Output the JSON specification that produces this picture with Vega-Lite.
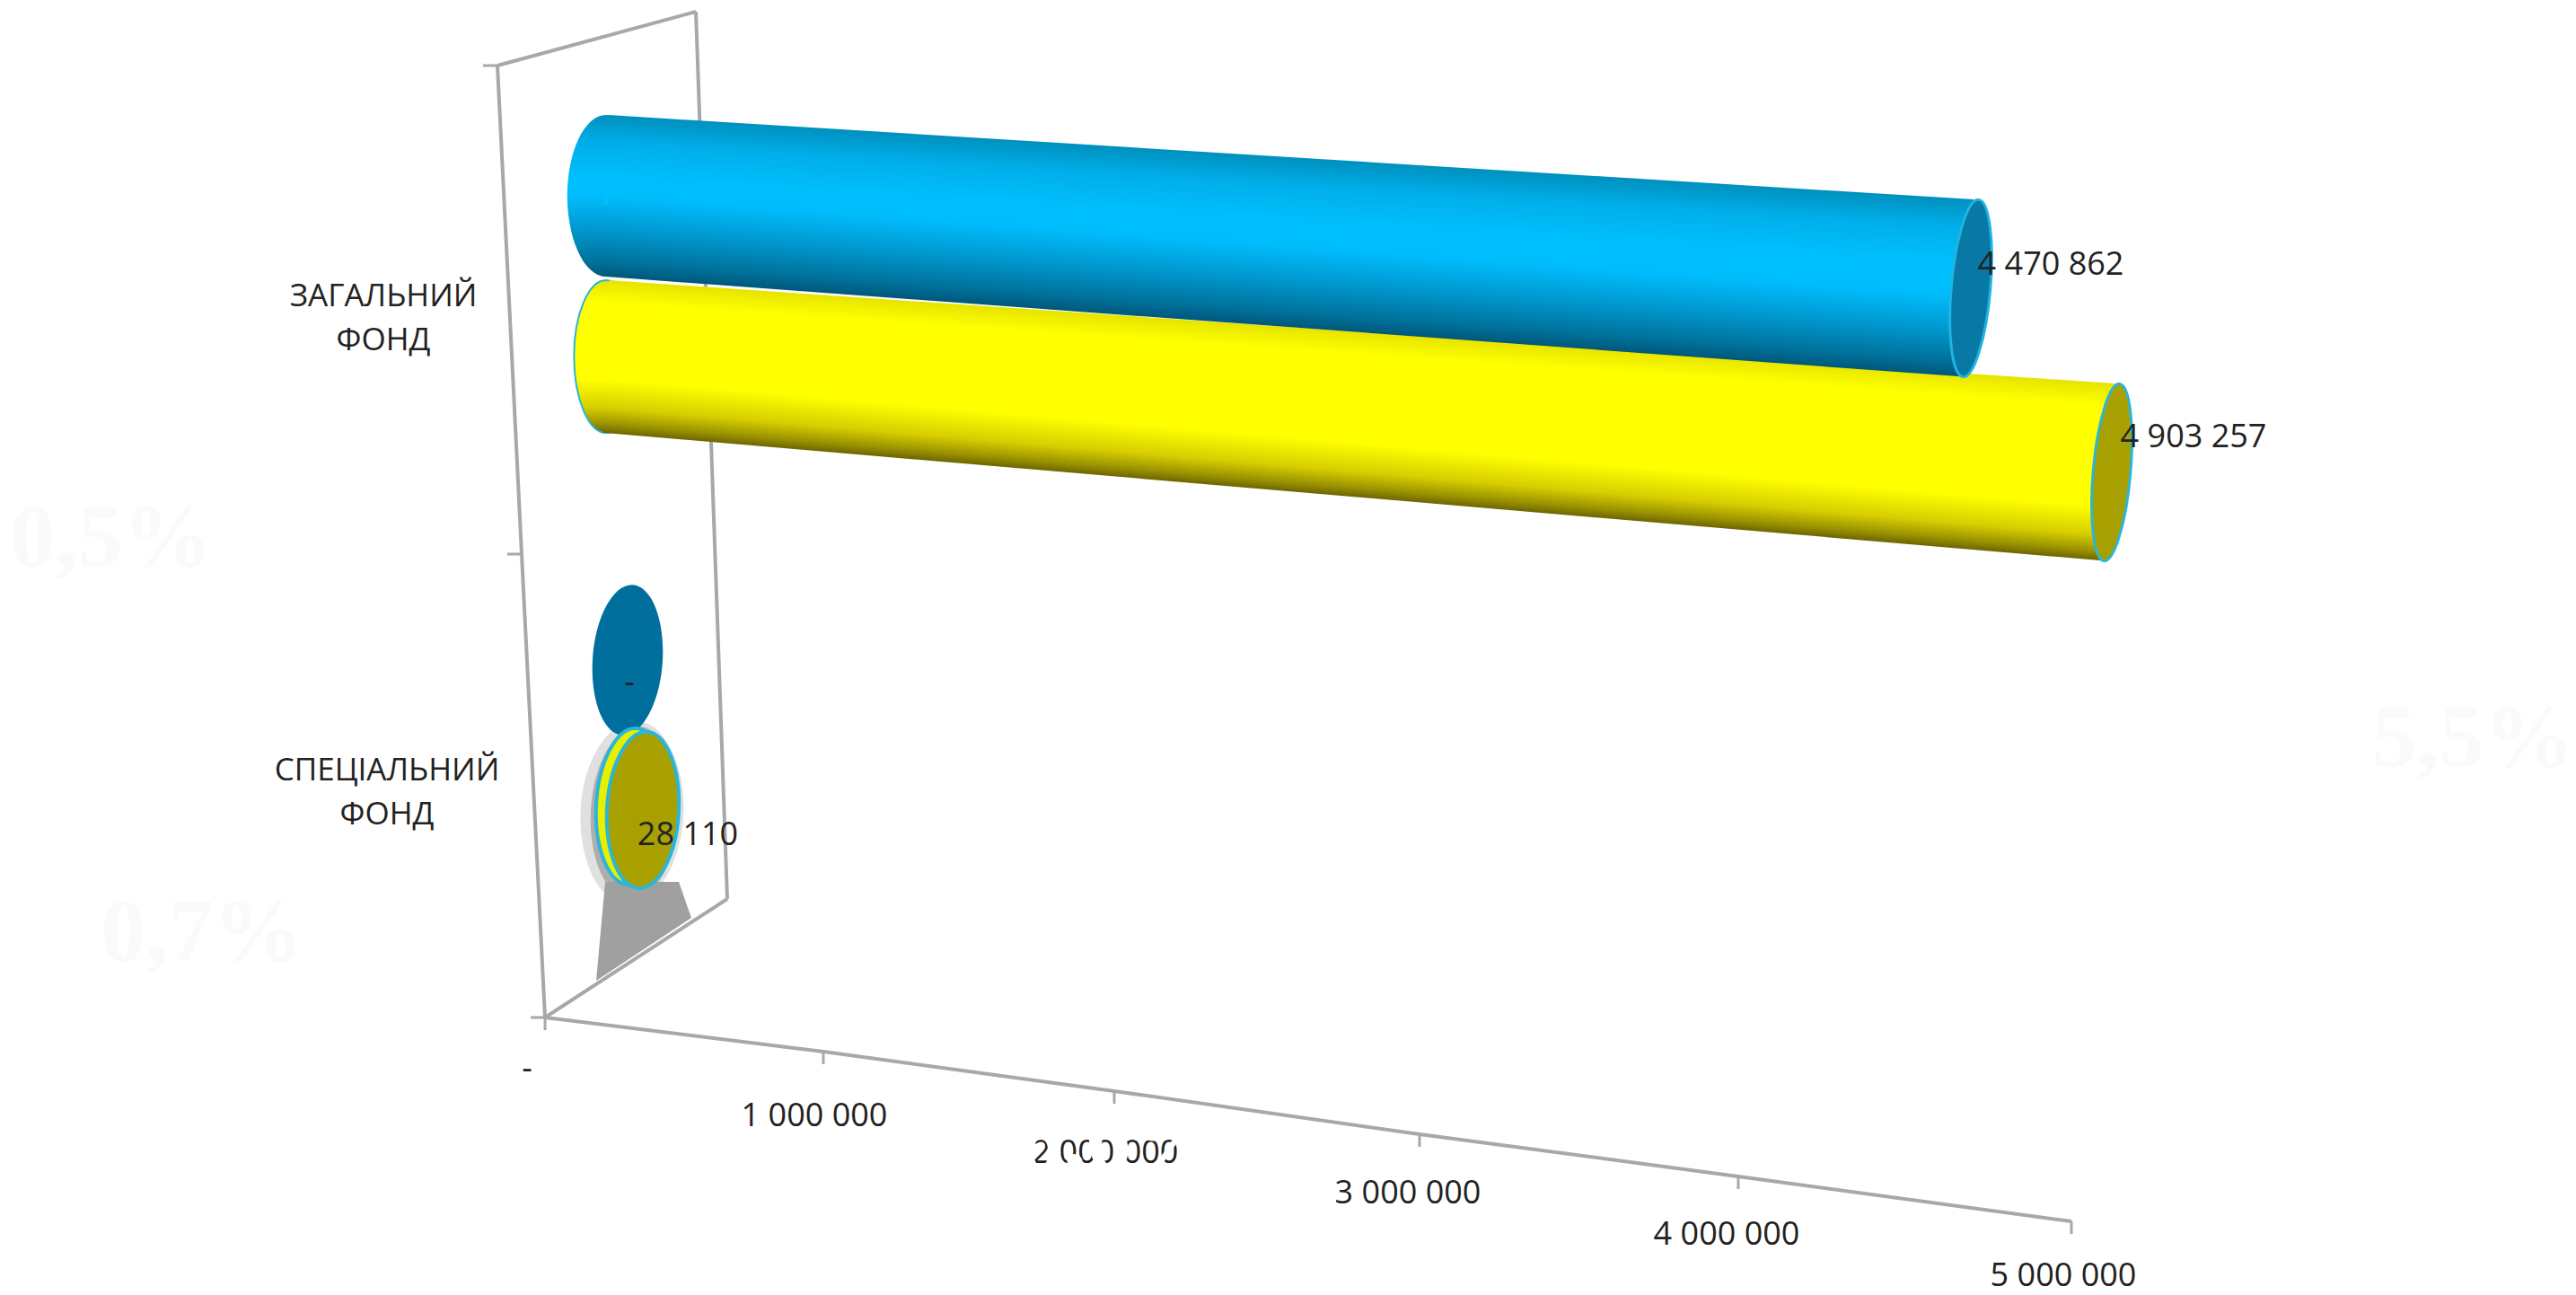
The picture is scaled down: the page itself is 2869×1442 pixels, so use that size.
{
"$schema":"https://vega.github.io/schema/vega-lite/v6.json",
"width":2869,"height":1442,"padding":0,
"autosize":{"type":"fit","contains":"padding"},
"background":"white",
"config":{"view":{"stroke":null}},
"datasets":{
"bars":[
{"fund":"ЗАГАЛЬНИЙ ФОНД","series":"A","base":0,"value":4470862,"label":"4 470 862"},
{"fund":"ЗАГАЛЬНИЙ ФОНД","series":"B","base":0,"value":4903257,"label":"4 903 257"},
{"fund":"СПЕЦІАЛЬНИЙ ФОНД","series":"A","base":0,"value":0,"label":"-"},
{"fund":"СПЕЦІАЛЬНИЙ ФОНД","series":"B","base":0,"value":28110,"label":"28 110"}
],
"ticks":[
{"value":0,"label":"-"},{"value":1000000,"label":"1 000 000"},{"value":2000000,"label":"2 000 000"},
{"value":3000000,"label":"3 000 000"},{"value":4000000,"label":"4 000 000"},{"value":5000000,"label":"5 000 000"}
],
"funds":[{"fund":"ЗАГАЛЬНИЙ ФОНД"},{"fund":"СПЕЦІАЛЬНИЙ ФОНД"}],
"edges":[{"edge":0},{"edge":1},{"edge":2}],
"depth":[{"d":0},{"d":1}],
"ghosts":[{"value":0,"label":"0,5%"},{"value":5000000,"label":"5,5%"},{"value":0,"label":"0,7%"},{"value":2000000,"label":"8,6%"}]
},
"layer":[
{"data":{"name":"ghosts"},"transform":[{"filter":"datum.label=='0,5%'"}],
 "mark":{"type":"text","font":"Liberation Serif","fontWeight":"bold","fontSize":100,"color":"#FAFAFA","dx":-483,"dy":-533},
 "encoding":{"text":{"field":"label","type":"nominal"},
 "x":{"field":"value","type":"quantitative","axis":null,"scale":{"domain":[0,1000000,2000000,3000000,4000000,5000000],"range":[607,917,1241,1581,1936,2307]}},
 "y":{"field":"value","type":"quantitative","axis":null,"scale":{"domain":[0,1000000,2000000,3000000,4000000,5000000],"range":[1133,1171,1215,1263,1310,1360]}}}},
{"data":{"name":"ghosts"},"transform":[{"filter":"datum.label=='5,5%'"}],
 "mark":{"type":"text","font":"Liberation Serif","fontWeight":"bold","fontSize":100,"color":"#FAFAFA","dx":447,"dy":-537},
 "encoding":{"text":{"field":"label","type":"nominal"},
 "x":{"field":"value","type":"quantitative","axis":null,"scale":{"domain":[0,1000000,2000000,3000000,4000000,5000000],"range":[607,917,1241,1581,1936,2307]}},
 "y":{"field":"value","type":"quantitative","axis":null,"scale":{"domain":[0,1000000,2000000,3000000,4000000,5000000],"range":[1133,1171,1215,1263,1310,1360]}}}},
{"data":{"name":"ghosts"},"transform":[{"filter":"datum.label=='0,7%'"}],
 "mark":{"type":"text","font":"Liberation Serif","fontWeight":"bold","fontSize":100,"color":"#FAFAFA","dx":-382,"dy":-94},
 "encoding":{"text":{"field":"label","type":"nominal"},
 "x":{"field":"value","type":"quantitative","axis":null,"scale":{"domain":[0,1000000,2000000,3000000,4000000,5000000],"range":[607,917,1241,1581,1936,2307]}},
 "y":{"field":"value","type":"quantitative","axis":null,"scale":{"domain":[0,1000000,2000000,3000000,4000000,5000000],"range":[1133,1171,1215,1263,1310,1360]}}}},

{"data":{"name":"edges"},"mark":{"type":"line","stroke":"#A8A8A8","strokeWidth":4},
 "encoding":{"x":{"field":"edge","type":"quantitative","axis":null,"scale":{"domain":[0,1,2],"range":[554,581,607]}},
 "y":{"field":"edge","type":"quantitative","axis":null,"scale":{"domain":[0,1,2],"range":[73,617,1133]}}}},
{"data":{"name":"edges"},"mark":{"type":"rule","stroke":"#A8A8A8","strokeWidth":3,"xOffset":-16},
 "encoding":{"x":{"field":"edge","type":"quantitative","axis":null,"scale":{"domain":[0,1,2],"range":[554,581,607]}},
 "x2":{"field":"edge"},
 "y":{"field":"edge","type":"quantitative","axis":null,"scale":{"domain":[0,1,2],"range":[73,617,1133]}}}},
{"data":{"name":"edges"},"mark":{"type":"line","stroke":"#A8A8A8","strokeWidth":4},
 "encoding":{"x":{"field":"edge","type":"quantitative","axis":null,"scale":{"domain":[0,2],"range":[775,810]}},
 "y":{"field":"edge","type":"quantitative","axis":null,"scale":{"domain":[0,2],"range":[13,1001]}}}},
{"data":{"name":"depth"},"mark":{"type":"line","stroke":"#A8A8A8","strokeWidth":4},
 "encoding":{"x":{"field":"d","type":"quantitative","axis":null,"scale":{"domain":[0,1],"range":[554,775]}},
 "y":{"field":"d","type":"quantitative","axis":null,"scale":{"domain":[0,1],"range":[73,13]}}}},

{"data":{"name":"bars"},"transform":[{"filter":"datum.fund=='СПЕЦІАЛЬНИЙ ФОНД' && datum.series=='B'"}],
 "encoding":{
 "x":{"field":"value","type":"quantitative","axis":null,"scale":{"domain":[0,28110],"range":[706,716]}},
 "y":{"field":"value","type":"quantitative","axis":null,"scale":{"domain":[0,28110],"range":[897,902]}}},
 "layer":[
 {"mark":{"type":"point","filled":true,"fill":"#999999","opacity":0.3,"size":42000,"angle":3,"xOffset":-12,"yOffset":3,"shape":"M0,-1C.3,-1 .56,-.55 .56,0C.56,.55 .3,1 0,1C-.3,1 -.56,.55 -.56,0C-.56,-.55 -.3,-1 0,-1Z"}},
 {"mark":{"type":"point","filled":true,"fill":"#8C8C8C","opacity":0.6,"size":37000,"angle":3,"xOffset":-9,"yOffset":3,"shape":"M0,-1C.28,-1 .51,-.55 .51,0C.51,.55 .28,1 0,1C-.28,1 -.51,.55 -.51,0C-.51,-.55 -.28,-1 0,-1Z"}},
 {"mark":{"type":"point","filled":true,"fill":"#A0A0A0","opacity":1,"size":40000,"shape":"M-.42,.8L.4,.8L.54,1.2L-.52,1.9Z"}}
 ]},

{"data":{"name":"depth"},"mark":{"type":"line","stroke":"#A8A8A8","strokeWidth":4},
 "encoding":{"x":{"field":"d","type":"quantitative","axis":null,"scale":{"domain":[0,1],"range":[607,810]}},
 "y":{"field":"d","type":"quantitative","axis":null,"scale":{"domain":[0,1],"range":[1133,1001]}}}},

{"data":{"name":"ticks"},
 "encoding":{
 "x":{"field":"value","type":"quantitative","axis":null,"scale":{"domain":[0,1000000,2000000,3000000,4000000,5000000],"range":[607,917,1241,1581,1936,2307]}},
 "y":{"field":"value","type":"quantitative","axis":null,"scale":{"domain":[0,1000000,2000000,3000000,4000000,5000000],"range":[1133,1171,1215,1263,1310,1360]}}},
 "layer":[
 {"mark":{"type":"line","stroke":"#A8A8A8","strokeWidth":4}},
 {"mark":{"type":"rule","stroke":"#A8A8A8","strokeWidth":3,"y2Offset":14},"encoding":{"y2":{"field":"value"}}}
 ]},

{"data":{"name":"ticks"},
 "mark":{"type":"text","font":"Open Sans","fontSize":36,"color":"#222222"},
 "encoding":{"text":{"field":"label","type":"nominal"},
 "x":{"field":"value","type":"quantitative","axis":null,"scale":{"domain":[0,1000000,2000000,3000000,4000000,5000000],"range":[587,907,1231,1568,1923,2298]}},
 "y":{"field":"value","type":"quantitative","axis":null,"scale":{"domain":[0,1000000,2000000,3000000,4000000,5000000],"range":[1191,1243,1284,1329,1375,1421]}}}},

{"data":{"name":"ghosts"},"transform":[{"filter":"datum.label=='8,6%'"}],
 "mark":{"type":"text","font":"Liberation Serif","fontWeight":"bold","fontSize":100,"color":"#FFFFFF","dx":6,"dy":55},
 "encoding":{"text":{"field":"label","type":"nominal"},
 "x":{"field":"value","type":"quantitative","axis":null,"scale":{"domain":[0,1000000,2000000,3000000,4000000,5000000],"range":[607,917,1241,1581,1936,2307]}},
 "y":{"field":"value","type":"quantitative","axis":null,"scale":{"domain":[0,1000000,2000000,3000000,4000000,5000000],"range":[1133,1171,1215,1263,1310,1360]}}}},

{"data":{"name":"funds"},"mark":{"type":"text","font":"Open Sans","fontSize":35,"color":"#222222","lineBreak":" ","lineHeight":49,"align":"center","baseline":"middle"},
 "encoding":{"text":{"field":"fund","type":"nominal"},
 "x":{"field":"fund","type":"nominal","axis":null,"scale":{"type":"point","domain":["ЗАГАЛЬНИЙ ФОНД","СПЕЦІАЛЬНИЙ ФОНД"],"range":[427,431],"padding":0}},
 "y":{"field":"fund","type":"nominal","axis":null,"scale":{"type":"point","domain":["ЗАГАЛЬНИЙ ФОНД","СПЕЦІАЛЬНИЙ ФОНД"],"range":[330,858],"padding":0}}}},

{"data":{"name":"bars"},"transform":[{"filter":"datum.fund=='ЗАГАЛЬНИЙ ФОНД' && datum.series=='B'"}],
 "layer":[
 {"mark":{"type":"point","filled":true,"size":28900,"stroke":"#29B6D8","strokeWidth":2,"opacity":1,"shape":"M0,-1C.23,-1 .42,-.55 .42,0C.42,.55 .23,1 0,1C-.23,1 -.42,.55 -.42,0C-.42,-.55 -.23,-1 0,-1Z",
  "fill":{"gradient":"linear","x1":0,"y1":0,"x2":0,"y2":1,"stops":[{"offset":0,"color":"#E6E400"},{"offset":0.147,"color":"#FFFF00"},{"offset":0.65,"color":"#FFFF00"},{"offset":0.835,"color":"#D6CE00"},{"offset":0.94,"color":"#9A9200"},{"offset":1,"color":"#6E6600"}]}},
  "encoding":{"x":{"field":"base","type":"quantitative","axis":null,"scale":{"domain":[0,4903257],"range":[675,2352]}},"y":{"field":"base","type":"quantitative","axis":null,"scale":{"domain":[0,4903257],"range":[397,526]}}}},
 {"mark":{"type":"rule","strokeWidth":100,"yOffset":-35,"y2Offset":-49,
  "stroke":{"gradient":"linear","x1":0.7175,"y1":0.2825,"x2":0.2825,"y2":0.7175,"stops":[{"offset":0,"color":"#E6E400"},{"offset":0.25,"color":"#FFFF00"},{"offset":1,"color":"#FFFF00"}]}},
  "encoding":{"x":{"field":"base","type":"quantitative","axis":null,"scale":{"domain":[0,4903257],"range":[675,2352]}},"x2":{"field":"value"},"y":{"field":"base","type":"quantitative","axis":null,"scale":{"domain":[0,4903257],"range":[397,526]}},"y2":{"field":"value"}}},
 {"mark":{"type":"rule","strokeWidth":100,"yOffset":35,"y2Offset":49,
  "stroke":{"gradient":"linear","x1":0.675,"y1":0.325,"x2":0.325,"y2":0.675,"stops":[{"offset":0,"color":"#FFFF00"},{"offset":0.4,"color":"#FFFF00"},{"offset":0.72,"color":"#D6CE00"},{"offset":0.9,"color":"#9A9200"},{"offset":1,"color":"#6E6600"}]}},
  "encoding":{"x":{"field":"base","type":"quantitative","axis":null,"scale":{"domain":[0,4903257],"range":[675,2352]}},"x2":{"field":"value"},"y":{"field":"base","type":"quantitative","axis":null,"scale":{"domain":[0,4903257],"range":[397,526]}},"y2":{"field":"value"}}},
 {"mark":{"type":"point","filled":true,"size":39204,"angle":5,"fill":"#A8A000","stroke":"#29B6D8","strokeWidth":3,"opacity":1,"shape":"M0,-1C.115,-1 .21,-.55 .21,0C.21,.55 .115,1 0,1C-.115,1 -.21,.55 -.21,0C-.21,-.55 -.115,-1 0,-1Z"},
  "encoding":{"x":{"field":"value","type":"quantitative","axis":null,"scale":{"domain":[0,4903257],"range":[675,2352]}},"y":{"field":"value","type":"quantitative","axis":null,"scale":{"domain":[0,4903257],"range":[397,526]}}}},
 {"mark":{"type":"text","font":"Open Sans","fontSize":36,"color":"#222222","dx":91,"dy":-39},
  "encoding":{"text":{"field":"label","type":"nominal"},"x":{"field":"value","type":"quantitative","axis":null,"scale":{"domain":[0,4903257],"range":[675,2352]}},"y":{"field":"value","type":"quantitative","axis":null,"scale":{"domain":[0,4903257],"range":[397,526]}}}}
 ]},

{"data":{"name":"bars"},"transform":[{"filter":"datum.fund=='ЗАГАЛЬНИЙ ФОНД' && datum.series=='A'"}],
 "layer":[
 {"mark":{"type":"point","filled":true,"size":32400,"opacity":1,"shape":"M0,-1C.265,-1 .48,-.55 .48,0C.48,.55 .265,1 0,1C-.265,1 -.48,.55 -.48,0C-.48,-.55 -.265,-1 0,-1Z",
  "fill":{"gradient":"linear","x1":0,"y1":0,"x2":0,"y2":1,"stops":[{"offset":0,"color":"#0090BE"},{"offset":0.167,"color":"#00AEE8"},{"offset":0.4,"color":"#00BFFF"},{"offset":0.444,"color":"#00BFFF"},{"offset":0.51,"color":"#00BBFA"},{"offset":0.72,"color":"#0096CC"},{"offset":0.917,"color":"#006F98"},{"offset":1,"color":"#00587A"}]}},
  "encoding":{"x":{"field":"base","type":"quantitative","axis":null,"scale":{"domain":[0,4470862],"range":[675,2195]}},"y":{"field":"base","type":"quantitative","axis":null,"scale":{"domain":[0,4470862],"range":[218,321]}}}},
 {"mark":{"type":"rule","strokeWidth":100,"yOffset":-40,"y2Offset":-49,
  "stroke":{"gradient":"linear","x1":0.766,"y1":0.234,"x2":0.234,"y2":0.766,"stops":[{"offset":0,"color":"#0090BE"},{"offset":0.3,"color":"#00AEE8"},{"offset":0.72,"color":"#00BFFF"},{"offset":1,"color":"#00BFFF"}]}},
  "encoding":{"x":{"field":"base","type":"quantitative","axis":null,"scale":{"domain":[0,4470862],"range":[675,2195]}},"x2":{"field":"value"},"y":{"field":"base","type":"quantitative","axis":null,"scale":{"domain":[0,4470862],"range":[218,321]}},"y2":{"field":"value"}}},
 {"mark":{"type":"rule","strokeWidth":100,"yOffset":40,"y2Offset":49,
  "stroke":{"gradient":"linear","x1":0.723,"y1":0.277,"x2":0.277,"y2":0.723,"stops":[{"offset":0,"color":"#00BFFF"},{"offset":0.12,"color":"#00BBFA"},{"offset":0.5,"color":"#0096CC"},{"offset":0.85,"color":"#006F98"},{"offset":1,"color":"#00587A"}]}},
  "encoding":{"x":{"field":"base","type":"quantitative","axis":null,"scale":{"domain":[0,4470862],"range":[675,2195]}},"x2":{"field":"value"},"y":{"field":"base","type":"quantitative","axis":null,"scale":{"domain":[0,4470862],"range":[218,321]}},"y2":{"field":"value"}}},
 {"mark":{"type":"point","filled":true,"size":39204,"angle":5,"fill":"#0878A4","stroke":"#1FB4E4","strokeWidth":3,"opacity":1,"shape":"M0,-1C.12,-1 .22,-.55 .22,0C.22,.55 .12,1 0,1C-.12,1 -.22,.55 -.22,0C-.22,-.55 -.12,-1 0,-1Z"},
  "encoding":{"x":{"field":"value","type":"quantitative","axis":null,"scale":{"domain":[0,4470862],"range":[675,2195]}},"y":{"field":"value","type":"quantitative","axis":null,"scale":{"domain":[0,4470862],"range":[218,321]}}}},
 {"mark":{"type":"text","font":"Open Sans","fontSize":36,"color":"#222222","dx":89,"dy":-26},
  "encoding":{"text":{"field":"label","type":"nominal"},"x":{"field":"value","type":"quantitative","axis":null,"scale":{"domain":[0,4470862],"range":[675,2195]}},"y":{"field":"value","type":"quantitative","axis":null,"scale":{"domain":[0,4470862],"range":[218,321]}}}}
 ]},

{"data":{"name":"bars"},"transform":[{"filter":"datum.fund=='СПЕЦІАЛЬНИЙ ФОНД' && datum.series=='A'"}],
 "encoding":{
 "x":{"field":"value","type":"quantitative","axis":null,"scale":{"domain":[0,1],"range":[699,700]}},
 "y":{"field":"value","type":"quantitative","axis":null,"scale":{"domain":[0,1],"range":[735,736]}}},
 "layer":[
 {"mark":{"type":"point","filled":true,"size":28224,"angle":4,"fill":"#006F9E","opacity":1,"shape":"M0,-1C.255,-1 .464,-.55 .464,0C.464,.55 .255,1 0,1C-.255,1 -.464,.55 -.464,0C-.464,-.55 -.255,-1 0,-1Z"}},
 {"mark":{"type":"text","font":"Open Sans","fontSize":36,"color":"#222222","dx":2,"dy":26},"encoding":{"text":{"field":"label","type":"nominal"}}}
 ]},

{"data":{"name":"bars"},"transform":[{"filter":"datum.fund=='СПЕЦІАЛЬНИЙ ФОНД' && datum.series=='B'"}],
 "layer":[
 {"mark":{"type":"point","filled":true,"size":30276,"angle":3,"fill":"#E8F000","stroke":"#29B6D8","strokeWidth":4,"opacity":1,"shape":"M0,-1C.25,-1 .46,-.55 .46,0C.46,.55 .25,1 0,1C-.25,1 -.46,.55 -.46,0C-.46,-.55 -.25,-1 0,-1Z"},
  "encoding":{"x":{"field":"base","type":"quantitative","axis":null,"scale":{"domain":[0,28110],"range":[704,716]}},"y":{"field":"base","type":"quantitative","axis":null,"scale":{"domain":[0,28110],"range":[898,902]}}}},
 {"mark":{"type":"point","filled":true,"size":30276,"angle":3,"fill":"#A8A000","stroke":"#29B6D8","strokeWidth":4,"opacity":1,"shape":"M0,-1C.25,-1 .46,-.55 .46,0C.46,.55 .25,1 0,1C-.25,1 -.46,.55 -.46,0C-.46,-.55 -.25,-1 0,-1Z"},
  "encoding":{"x":{"field":"value","type":"quantitative","axis":null,"scale":{"domain":[0,28110],"range":[704,716]}},"y":{"field":"value","type":"quantitative","axis":null,"scale":{"domain":[0,28110],"range":[898,902]}}}},
 {"mark":{"type":"text","font":"Open Sans","fontSize":36,"color":"#222222","dx":50,"dy":28},"encoding":{"text":{"field":"label","type":"nominal"},"x":{"field":"value","type":"quantitative","axis":null,"scale":{"domain":[0,28110],"range":[704,716]}},"y":{"field":"value","type":"quantitative","axis":null,"scale":{"domain":[0,28110],"range":[898,902]}}}}
 ]}
],
"resolve":{"scale":{"x":"independent","y":"independent"}}
}
